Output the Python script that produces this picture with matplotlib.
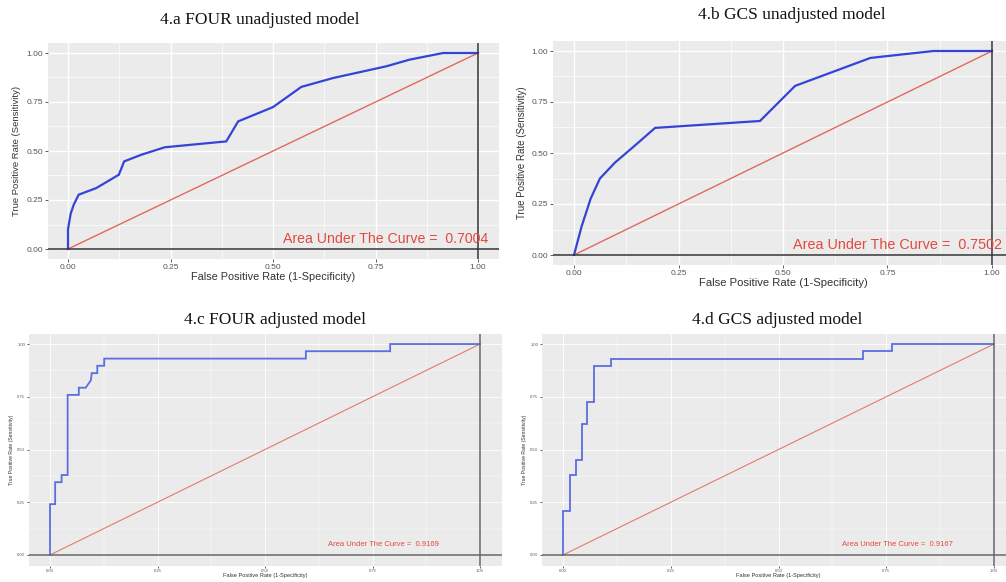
import numpy as np
import matplotlib
matplotlib.use("Agg")
import matplotlib.pyplot as plt
from matplotlib.ticker import MultipleLocator

# ROC-Kurven
fpr_a = [0, 0, 0.0065, 0.014, 0.026, 0.069, 0.124, 0.137, 0.179, 0.236, 0.386, 0.415, 0.50, 0.569, 0.646, 0.776, 0.833, 0.915, 1.0]
tpr_a = [0, 0.10, 0.18, 0.226, 0.277, 0.311, 0.379, 0.447, 0.481, 0.519, 0.549, 0.651, 0.724, 0.827, 0.872, 0.932, 0.966, 1.0, 1.0]

fpr_b = [0, 0.018, 0.040, 0.062, 0.098, 0.142, 0.194, 0.445, 0.529, 0.709, 0.860, 1.0]
tpr_b = [0, 0.139, 0.277, 0.375, 0.453, 0.530, 0.623, 0.657, 0.829, 0.966, 1.0, 1.0]

fpr_c = [0, 0, 0.012, 0.012, 0.027, 0.027, 0.041, 0.041, 0.067, 0.067, 0.083, 0.095, 0.097, 0.110, 0.110, 0.126, 0.126, 0.595, 0.595, 0.791, 0.791, 1.0]
tpr_c = [0, 0.241, 0.241, 0.345, 0.345, 0.379, 0.379, 0.759, 0.759, 0.793, 0.793, 0.828, 0.862, 0.862, 0.897, 0.897, 0.931, 0.931, 0.966, 0.966, 1.0, 1.0]

fpr_d = [0, 0, 0.0155, 0.0155, 0.029, 0.029, 0.043, 0.043, 0.056, 0.056, 0.071, 0.071, 0.112, 0.112, 0.695, 0.695, 0.764, 0.764, 1.0]
tpr_d = [0, 0.209, 0.209, 0.380, 0.380, 0.449, 0.449, 0.622, 0.622, 0.726, 0.726, 0.896, 0.896, 0.929, 0.929, 0.965, 0.965, 1.0, 1.0]

auc_werte = ["0.7004", "0.7502", "0.9169", "0.9167"]
titel = ["4.a FOUR unadjusted model", "4.b GCS unadjusted model",
         "4.c FOUR adjusted model", "4.d GCS adjusted model"]
ticks = [0, 0.25, 0.5, 0.75, 1.0]
tick_labels = ["0.00", "0.25", "0.50", "0.75", "1.00"]

W, H = 1006, 582
fig = plt.figure(figsize=(W / 100, H / 100), dpi=100)
fig.patch.set_facecolor("white")

def achse(l, t, r, b):
    return fig.add_axes([l / W, 1 - b / H, (r - l) / W, (b - t) / H])

# Panelgrenzen in Pixeln, Titelposition, Schriftgroessen, Labelpositionen
panels = [
    dict(box=(47.5, 43.2, 498.5, 258.8), fpr=fpr_a, tpr=tpr_a, tpos=(260, 20),
         tick_fs=6.0, xlab_fs=7.8, ylab_fs=6.8, auc_fs=10.2, lw=1.6, blue="#3444d6", red="#e2695c",
         vline="#333333", xl=-0.084, yl=-0.068, tl=2.2, big=True),
    dict(box=(553.1, 40.8, 1012.9, 265.2), fpr=fpr_b, tpr=tpr_b, tpos=(792, 15),
         tick_fs=6.0, xlab_fs=8.1, ylab_fs=7.0, auc_fs=10.4, lw=1.6, blue="#3444d6", red="#e2695c",
         vline="#333333", xl=-0.079, yl=-0.068, tl=2.2, big=True),
    dict(box=(28.5, 333.5, 501.5, 565.5), fpr=fpr_c, tpr=tpr_c, tpos=(275, 320),
         tick_fs=3.0, xlab_fs=4.1, ylab_fs=3.7, auc_fs=5.5, lw=1.3, blue="#5a6ee0", red="#e57a6d",
         vline="#666666", xl=-0.045, yl=-0.035, tl=1.2, big=False),
    dict(box=(541.5, 333.5, 1015.5, 565.5), fpr=fpr_d, tpr=tpr_d, tpos=(777, 320),
         tick_fs=3.0, xlab_fs=4.1, ylab_fs=3.7, auc_fs=5.5, lw=1.3, blue="#5a6ee0", red="#e57a6d",
         vline="#666666", xl=-0.045, yl=-0.035, tl=1.2, big=False),
]

for i, p in enumerate(panels):
    ax = achse(*p["box"])
    ax.set_facecolor("#ebebeb")
    ax.set_xlim(-0.05, 1.05)
    ax.set_ylim(-0.05, 1.05)
    for s in ax.spines.values():
        s.set_visible(False)
    ax.xaxis.set_minor_locator(MultipleLocator(0.125))
    ax.yaxis.set_minor_locator(MultipleLocator(0.125))
    ax.grid(which="major", color="white", lw=1.0 if p["big"] else 0.6)
    ax.grid(which="minor", color="white", lw=0.5 if p["big"] else 0.3)
    ax.set_axisbelow(True)
    ax.set_xticks(ticks)
    ax.set_xticklabels(tick_labels)
    ax.set_yticks(ticks)
    ax.set_yticklabels(tick_labels)
    ax.tick_params(which="major", length=p["tl"], width=0.6, color="#444444",
                   labelsize=p["tick_fs"], labelcolor="#555555", pad=1.2)
    ax.tick_params(which="minor", length=0)

    # Diagonale und ROC-Kurve
    ax.plot([0, 1], [0, 1], color=p["red"], lw=1.0 if p["big"] else 0.8)
    ax.plot(p["fpr"], p["tpr"], color=p["blue"], lw=p["lw"], solid_joinstyle="miter")
    ax.axvline(1.0, color=p["vline"], lw=1.1)
    ax.axhline(0.0, color=p["vline"], lw=1.1)

    ax.text(0.775, 0.05, "Area Under The Curve =  " + auc_werte[i],
            color="#e04a3f", fontsize=p["auc_fs"], family="Liberation Sans",
            ha="center", va="center")

    ax.set_xlabel("False Positive Rate (1-Specificity)", fontsize=p["xlab_fs"],
                  family="Liberation Sans", color="#333333", va="center")
    ax.set_ylabel("True Positive Rate (Sensitivity)", fontsize=p["ylab_fs"],
                  family="Liberation Sans", color="#333333", va="center")
    ax.xaxis.set_label_coords(0.5, p["xl"])
    ax.yaxis.set_label_coords(p["yl"], 0.5)
    for lbl in ax.get_xticklabels() + ax.get_yticklabels():
        lbl.set_family("Liberation Sans")

    fig.text(p["tpos"][0] / W, 1 - p["tpos"][1] / H, titel[i], family="Liberation Serif",
             fontsize=12.5, ha="center", va="center", color="#111111")

fig.savefig("out.png", dpi=100)
